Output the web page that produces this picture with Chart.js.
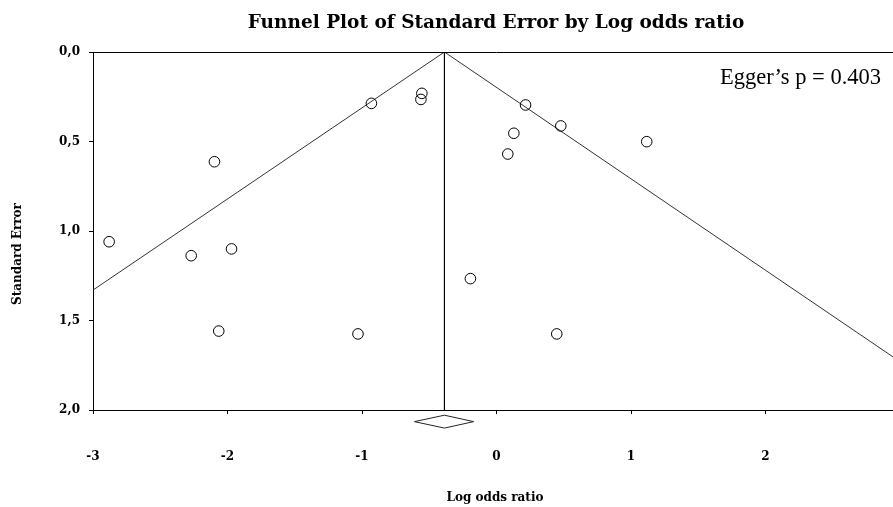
<!DOCTYPE html>
<html>
<head>
<meta charset="utf-8">
<script src="https://cdn.jsdelivr.net/npm/chart.js@4/dist/chart.umd.min.js"></script>
<style>
  html, body { margin: 0; padding: 0; background: #fff; overflow: hidden; }
  #c { display: block; }
</style>
</head>
<body>
<canvas id="c" width="910" height="507" style="width:910px;height:507px"></canvas>
<script>
// ---- data ----
const studyLogOR = [-2.88, -2.27, -1.97, -2.065, -1.03, -0.194, -2.097, -0.93, -0.555, -0.562, 0.216, 0.478, 0.129, 0.084, 1.117, 0.448];
const studySE    = [1.06, 1.138, 1.10, 1.559, 1.575, 1.266, 0.613, 0.287, 0.231, 0.265, 0.296, 0.413, 0.454, 0.570, 0.501, 1.575];
const pooledLogOR = -0.387;
const pooledLower = -0.61;
const pooledUpper = -0.17;
const funnelLeftEnd  = { x: -3, y: 1.33 };
const funnelRightEnd = { x: 3, y: 1.73 };
const diamondSE = 2.065;
const diamondHalfHeight = 0.036;
const xTicks = [-3, -2, -1, 0, 1, 2, 3];
const yTicks = [0, 0.5, 1, 1.5, 2];
const titleText = 'Funnel Plot of Standard Error by Log odds ratio';
const xTitle = 'Log odds ratio';
const yTitle = 'Standard Error';
const eggerText = 'Egger\u2019s p = 0.403';

const studies = studyLogOR.map((x, i) => ({ x, y: studySE[i] }));

const textPlugin = {
  id: 'texts',
  afterDraw(chart) {
    const ctx = chart.ctx;
    const a = chart.chartArea;
    ctx.save();
    // top border of plot frame
    ctx.strokeStyle = '#000';
    ctx.lineWidth = 1;
    ctx.beginPath();
    ctx.moveTo(a.left, Math.round(a.top) + 0.5);
    ctx.lineTo(a.right, Math.round(a.top) + 0.5);
    ctx.stroke();

    ctx.fillStyle = '#000';
    // main title
    ctx.font = 'bold 18.5px "DejaVu Serif"';
    ctx.textAlign = 'center';
    ctx.textBaseline = 'alphabetic';
    ctx.fillText(titleText, 496, 28);

    // Egger text
    ctx.font = '22.5px "Liberation Serif"';
    ctx.textAlign = 'left';
    ctx.fillText(eggerText, 720, 84);

    // x axis title
    ctx.font = 'bold 12px "DejaVu Serif"';
    ctx.textAlign = 'center';
    ctx.textBaseline = 'middle';
    ctx.fillText(xTitle, 495, 498);

    // y axis title
    ctx.translate(18, 254);
    ctx.rotate(-Math.PI / 2);
    ctx.fillText(yTitle, 0, 0);
    ctx.restore();
  }
};

new Chart(document.getElementById('c'), {
  type: 'scatter',
  data: {
    datasets: [
      {
        label: 'Studies',
        data: studies,
        pointStyle: 'circle',
        pointRadius: 5.3,
        pointBorderWidth: 1,
        pointBorderColor: '#000',
        pointBackgroundColor: 'rgba(255,255,255,0)',
        showLine: false,
        order: 0
      },
      {
        label: 'Funnel left',
        data: [{ x: pooledLogOR, y: 0 }, funnelLeftEnd],
        showLine: true,
        borderColor: '#333',
        borderWidth: 1,
        pointRadius: 0,
        order: 1
      },
      {
        label: 'Funnel right',
        data: [{ x: pooledLogOR, y: 0 }, funnelRightEnd],
        showLine: true,
        borderColor: '#333',
        borderWidth: 1,
        pointRadius: 0,
        order: 1
      },
      {
        label: 'Pooled',
        data: [{ x: pooledLogOR, y: 0 }, { x: pooledLogOR, y: 2 }],
        showLine: true,
        borderColor: '#000',
        borderWidth: 1,
        pointRadius: 0,
        order: 1
      },
      {
        label: 'Diamond',
        data: [
          { x: pooledLower, y: diamondSE },
          { x: pooledLogOR, y: diamondSE - diamondHalfHeight },
          { x: pooledUpper, y: diamondSE },
          { x: pooledLogOR, y: diamondSE + diamondHalfHeight },
          { x: pooledLower, y: diamondSE }
        ],
        showLine: true,
        borderColor: '#222',
        borderWidth: 1,
        pointRadius: 0,
        clip: false,
        order: 1
      }
    ]
  },
  options: {
    responsive: false,
    maintainAspectRatio: false,
    animation: false,
    devicePixelRatio: 1,
    events: [],
    layout: { padding: { top: 52, right: 10, left: 0, bottom: 0 } },
    plugins: { legend: { display: false }, tooltip: { enabled: false }, title: { display: false } },
    elements: { line: { tension: 0 } },
    scales: {
      x: {
        type: 'linear',
        min: -3,
        max: 3,
        afterBuildTicks(scale) { scale.ticks = xTicks.map(v => ({ value: v })); },
        afterFit(scale) { scale.height = 97; scale.paddingLeft = 0; scale.paddingRight = 0; },
        ticks: {
          color: '#000',
          font: { family: 'DejaVu Serif', size: 12, weight: 'bold' },
          padding: 36,
          maxRotation: 0
        },
        grid: { drawOnChartArea: false, drawTicks: true, tickLength: 4, color: '#000' },
        border: { display: true, color: '#000', width: 1 }
      },
      y: {
        type: 'linear',
        min: 0,
        max: 2,
        reverse: true,
        afterBuildTicks(scale) { scale.ticks = yTicks.map(v => ({ value: v })); },
        afterFit(scale) { scale.width = 93; scale.paddingTop = 0; scale.paddingBottom = 0; },
        ticks: {
          color: '#000',
          font: { family: 'DejaVu Serif', size: 12, weight: 'bold' },
          padding: 9,
          callback: v => Number(v).toFixed(1).replace('.', ',')
        },
        grid: { drawOnChartArea: false, drawTicks: true, tickLength: 4, color: '#000' },
        border: { display: true, color: '#000', width: 1 }
      }
    }
  },
  plugins: [textPlugin]
});
</script>
</body>
</html>
